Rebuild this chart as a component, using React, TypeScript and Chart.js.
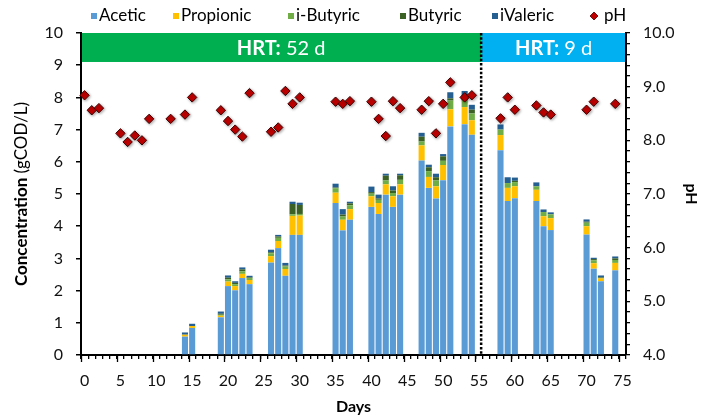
import React, { useEffect, useRef } from 'react';
import { Chart, registerables } from 'chart.js';

Chart.register(...registerables);

// ---------- data ----------
const DAYS = Array.from({ length: 76 }, (_, i) => String(i));

const BAR_DAYS = [14, 15, 19, 20, 21, 22, 23, 26, 27, 28, 29, 30, 35, 36, 37, 40, 41, 42, 43, 44, 47, 48, 49, 50, 51, 53, 54, 58, 59, 60, 63, 64, 65, 70, 71, 72, 74];
const ACETIC = [0.57, 0.84, 1.17, 2.14, 2.01, 2.39, 2.2, 2.87, 3.32, 2.46, 3.73, 3.73, 4.72, 3.87, 4.2, 4.6, 4.38, 4.98, 4.6, 4.98, 6.04, 5.19, 4.86, 5.43, 7.1, 7.17, 6.84, 6.36, 4.78, 4.87, 4.78, 4.0, 3.88, 3.74, 2.68, 2.29, 2.63];
const PROPIONIC = [0.06, 0.06, 0.05, 0.14, 0.13, 0.13, 0.13, 0.2, 0.22, 0.21, 0.59, 0.6, 0.32, 0.33, 0.33, 0.33, 0.34, 0.32, 0.33, 0.32, 0.47, 0.34, 0.38, 0.47, 0.53, 0.53, 0.45, 0.47, 0.41, 0.37, 0.35, 0.31, 0.37, 0.26, 0.17, 0.09, 0.23];
const IBUTYRIC = [0, 0, 0.03, 0.07, 0.06, 0.08, 0.06, 0.09, 0.1, 0.08, 0.05, 0.05, 0.14, 0.1, 0.12, 0.08, 0.1, 0.12, 0.1, 0.14, 0.12, 0.18, 0.18, 0.13, 0.27, 0.2, 0.21, 0.17, 0.15, 0.13, 0.11, 0.13, 0.12, 0.11, 0.09, 0, 0.09];
const BUTYRIC = [0, 0, 0.03, 0.05, 0.04, 0.06, 0.02, 0.03, 0.04, 0.03, 0.32, 0.28, 0.02, 0.06, 0.06, 0.05, 0.04, 0.15, 0.08, 0.14, 0.15, 0.12, 0.1, 0.14, 0.07, 0.08, 0.12, 0, 0, 0.04, 0, 0, 0, 0.03, 0.04, 0.03, 0.05];
const IVALERIC = [0.07, 0.07, 0.07, 0.07, 0.05, 0.06, 0.05, 0.08, 0.05, 0.08, 0.07, 0.07, 0.12, 0.17, 0.05, 0.17, 0.12, 0.06, 0.13, 0.05, 0.12, 0.08, 0.11, 0.07, 0.19, 0.22, 0.15, 0.16, 0.18, 0.1, 0.12, 0.08, 0.06, 0.07, 0.04, 0.06, 0.06];

const PH_DAYS = [0, 1, 2, 5, 6, 7, 8, 9, 12, 14, 15, 19, 20, 21, 22, 23, 26, 27, 28, 29, 30, 35, 36, 37, 40, 41, 42, 43, 44, 47, 48, 49, 50, 51, 53, 54, 58, 59, 60, 63, 64, 65, 70, 71, 74];
const PH = [8.84, 8.56, 8.6, 8.13, 7.97, 8.09, 8.0, 8.4, 8.4, 8.48, 8.8, 8.56, 8.36, 8.2, 8.07, 8.88, 8.16, 8.24, 8.92, 8.68, 8.8, 8.72, 8.68, 8.73, 8.72, 8.4, 8.08, 8.73, 8.6, 8.57, 8.73, 8.13, 8.68, 9.08, 8.8, 8.84, 8.41, 8.8, 8.57, 8.65, 8.52, 8.48, 8.57, 8.72, 8.68];

const HRT_LABELS = ['52 d', '9 d'];
const HRT_SWITCH = 55.3; // between day 55 and 56
const SERIES_NAMES = ['Acetic', 'Propionic', 'i-Butyric', 'Butyric', 'iValeric', 'pH'];
const COLORS = ['#5B9BD5', '#FFC000', '#70AD47', '#3B6125', '#255E91', '#C00000'];

const FONT = 'Lato, "Open Sans", sans-serif';

function toSeries(days: number[], vals: number[]) {
  const out: (number | null)[] = DAYS.map(() => null);
  days.forEach((d, i) => {
    out[d] = vals[i];
  });
  return out;
}

// ---------- plugins ----------
const bandPlugin = {
  id: 'hrtBand',
  beforeDatasetsDraw(chart: any) {
    const { ctx, chartArea: a, scales } = chart;
    const x = scales.x;
    const y = scales.y;
    const top = y.getPixelForValue(10);
    const bot = y.getPixelForValue(9.1);
    const sw = x.getPixelForValue(HRT_SWITCH);
    ctx.save();
    ctx.fillStyle = '#00B050';
    ctx.fillRect(a.left + 1, top, sw - a.left - 1, bot - top);
    ctx.fillStyle = '#00B0F0';
    ctx.fillRect(sw, top, a.right - 1 - sw, bot - top);
    const drawLabel = (cx: number, txt: string) => {
      ctx.textBaseline = 'middle';
      ctx.textAlign = 'left';
      ctx.fillStyle = '#ffffff';
      ctx.font = `bold 20px ${FONT}`;
      const w1 = ctx.measureText('HRT:').width;
      ctx.font = `20px ${FONT}`;
      const w2 = ctx.measureText(' ' + txt).width;
      const sx = cx - (w1 + w2) / 2;
      const cy = (top + bot) / 2 + 1;
      ctx.font = `bold 20px ${FONT}`;
      ctx.fillText('HRT:', sx, cy);
      ctx.font = `20px ${FONT}`;
      ctx.fillText(' ' + txt, sx + w1, cy);
    };
    drawLabel((a.left + sw) / 2, HRT_LABELS[0]);
    drawLabel((sw + a.right) / 2, HRT_LABELS[1]);
    ctx.strokeStyle = '#000';
    ctx.lineWidth = 2.5;
    ctx.setLineDash([2.5, 1.8]);
    ctx.beginPath();
    ctx.moveTo(sw, top);
    ctx.lineTo(sw, a.bottom);
    ctx.stroke();
    ctx.restore();
  },
};

const shadowPlugin = {
  id: 'phShadow',
  beforeDatasetDraw(chart: any, args: any) {
    if (chart.data.datasets[args.index].type === 'line') {
      const ctx = chart.ctx;
      ctx.save();
      ctx.shadowColor = 'rgba(0,0,0,0.35)';
      ctx.shadowBlur = 3;
      ctx.shadowOffsetX = 1;
      ctx.shadowOffsetY = 1;
    }
  },
  afterDatasetDraw(chart: any, args: any) {
    if (chart.data.datasets[args.index].type === 'line') chart.ctx.restore();
  },
};

const decorPlugin = {
  id: 'decor',
  afterDraw(chart: any) {
    const { ctx, chartArea: a, scales } = chart;
    const x = scales.x;
    ctx.save();
    // major x tick marks every 5 days
    ctx.strokeStyle = '#000';
    ctx.lineWidth = 1.3;
    for (let k = 0; k <= DAYS.length; k += 5) {
      const px = Math.round(x.getPixelForValue(k - 0.5)) + 0.5;
      ctx.beginPath();
      ctx.moveTo(px, a.bottom);
      ctx.lineTo(px, a.bottom + 7);
      ctx.stroke();
    }
    // left axis title (mixed weight)
    const cy = (a.top + a.bottom) / 2;
    ctx.translate(22, cy);
    ctx.rotate(-Math.PI / 2);
    ctx.textBaseline = 'middle';
    ctx.textAlign = 'left';
    ctx.fillStyle = '#000';
    ctx.font = `bold 17px ${FONT}`;
    const t1 = 'Concentration ';
    const w1 = ctx.measureText(t1).width;
    ctx.font = `17px ${FONT}`;
    const t2 = '(gCOD/L)';
    const w2 = ctx.measureText(t2).width;
    const sx = -(w1 + w2) / 2;
    ctx.font = `bold 17px ${FONT}`;
    ctx.fillText(t1, sx, 0);
    ctx.font = `17px ${FONT}`;
    ctx.fillText(t2, sx + w1, 0);
    ctx.restore();

    // legend
    ctx.save();
    const legendX = [91, 173, 288, 400, 492, 590];
    const ly = 16;
    ctx.font = `17px ${FONT}`;
    ctx.textBaseline = 'middle';
    ctx.textAlign = 'left';
    SERIES_NAMES.forEach((name, i) => {
      const bx = legendX[i];
      ctx.fillStyle = COLORS[i];
      if (i === 5) {
        ctx.beginPath();
        ctx.moveTo(bx, ly);
        ctx.lineTo(bx + 4, ly - 4);
        ctx.lineTo(bx + 8, ly);
        ctx.lineTo(bx + 4, ly + 4);
        ctx.closePath();
        ctx.fill();
        ctx.strokeStyle = '#4d0000';
        ctx.lineWidth = 0.8;
        ctx.stroke();
        ctx.fillStyle = '#000';
        ctx.fillText(name, bx + 14, ly);
      } else {
        ctx.fillRect(bx, ly - 3, 6, 6);
        ctx.fillStyle = '#000';
        ctx.fillText(name, bx + 8, ly);
      }
    });
    ctx.restore();
  },
};

export default function App() {
  const ref = useRef<HTMLCanvasElement | null>(null);

  useEffect(() => {
    if (!ref.current) return;
    const barNames = SERIES_NAMES.slice(0, 5);
    const barVals = [ACETIC, PROPIONIC, IBUTYRIC, BUTYRIC, IVALERIC];
    const barSets = barNames.map((name, i) => ({
      type: 'bar' as const,
      label: name,
      data: toSeries(BAR_DAYS, barVals[i]),
      backgroundColor: COLORS[i],
      borderWidth: 0,
      stack: 'vfa',
      yAxisID: 'y',
      order: 1,
      barPercentage: 0.85,
      categoryPercentage: 1,
    }));
    const tickFont = { family: FONT, size: 16 };
    const chart = new Chart(ref.current, {
      data: {
        labels: DAYS,
        datasets: [
          ...barSets,
          {
            type: 'line' as const,
            label: 'pH',
            data: toSeries(PH_DAYS, PH),
            yAxisID: 'y1',
            showLine: false,
            pointStyle: 'rectRot',
            pointRadius: 4.7,
            pointBackgroundColor: COLORS[5],
            pointBorderColor: '#3d0000',
            pointBorderWidth: 1,
            order: 0,
          },
        ] as any,
      },
      options: {
        responsive: false,
        animation: false,
        events: [],
        layout: { padding: { top: 33, left: 0, right: 0, bottom: 0 } },
        plugins: { legend: { display: false }, tooltip: { enabled: false } },
        scales: {
          x: {
            type: 'category',
            stacked: true,
            offset: true,
            grid: { display: true, drawOnChartArea: false, drawTicks: true, tickLength: 4, color: '#000', lineWidth: 1.3, offset: true },
            border: { display: true, color: '#000', width: 2 },
            ticks: {
              autoSkip: false,
              maxRotation: 0,
              padding: 12,
              color: '#111',
              font: tickFont,
              callback: (_v: any, i: number) => (i % 5 === 0 ? DAYS[i] : ''),
            },
            title: { display: true, text: 'Days', color: '#000', font: { family: FONT, size: 16, weight: 'bold' }, padding: { top: 0, bottom: 0 } },
            afterFit: (s: any) => {
              s.height = 61;
            },
          },
          y: {
            position: 'left',
            stacked: true,
            min: 0,
            max: 10,
            grid: { display: true, drawOnChartArea: false, drawTicks: true, tickLength: 5, color: '#000', lineWidth: 1.5 },
            border: { display: true, color: '#000', width: 2 },
            ticks: { stepSize: 1, autoSkip: false, padding: 13, color: '#111', font: tickFont },
            afterFit: (s: any) => {
              s.width = 81;
            },
          },
          y1: {
            position: 'right',
            min: 4,
            max: 10,
            grid: { display: true, drawOnChartArea: false, drawTicks: true, tickLength: 4, color: '#000', lineWidth: 1.3 },
            border: { display: true, color: '#000', width: 2 },
            ticks: {
              stepSize: 0.2,
              autoSkip: false,
              padding: 13,
              color: '#111',
              font: tickFont,
              callback: (v: any) => (Math.abs(v - Math.round(v)) < 1e-6 ? Number(v).toFixed(1) : ''),
            },
            title: { display: true, text: 'pH', color: '#000', font: { family: FONT, size: 16, weight: 'bold' }, padding: { top: 0, bottom: 0 } },
            afterFit: (s: any) => {
              s.width = 75;
            },
          },
        },
      } as any,
      plugins: [bandPlugin, shadowPlugin, decorPlugin],
    });
    return () => chart.destroy();
  }, []);

  return (
    <div style={{ position: 'absolute', left: 0, top: 0, width: 701, height: 416, background: '#fff' }}>
      <canvas ref={ref} width={701} height={416} style={{ display: 'block' }} />
    </div>
  );
}
